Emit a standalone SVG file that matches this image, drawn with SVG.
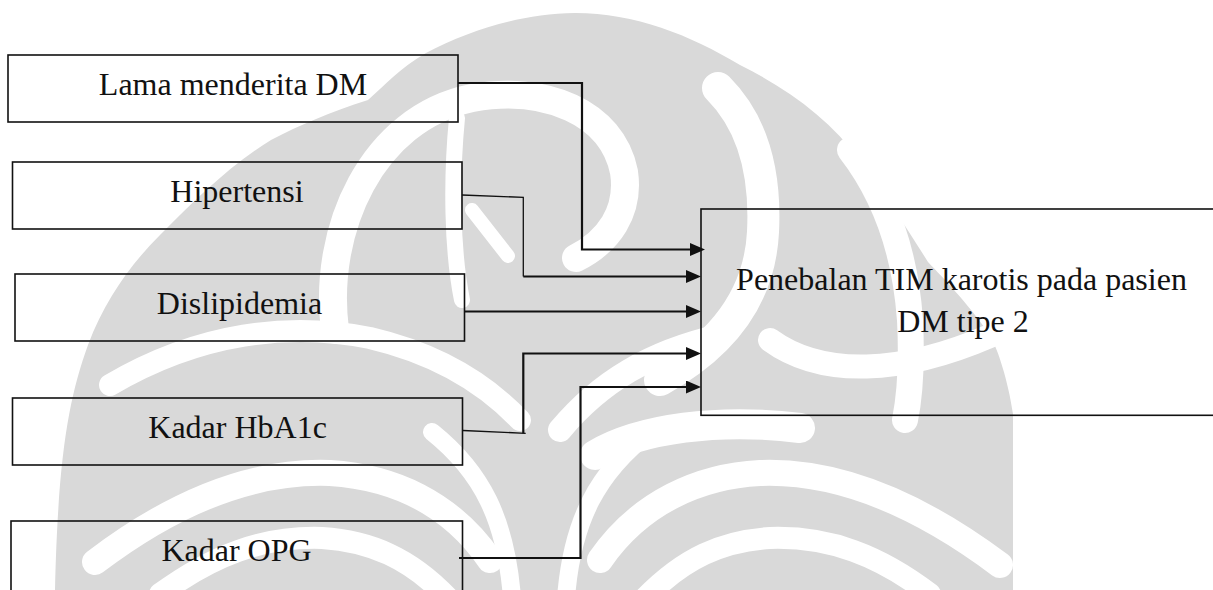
<svg xmlns="http://www.w3.org/2000/svg" width="1213" height="590" viewBox="0 0 1213 590">
<defs>
<style>
.wm{fill:#d9d9d9}
.wb{fill:none;stroke:#fff;stroke-linecap:round}
.box{fill:none;stroke:#111;stroke-width:1.6}
.lbl{font-family:"Liberation Serif","Times New Roman",serif;font-size:32px;fill:#111;text-anchor:middle}
.thick{fill:none;stroke:#111;stroke-width:2.2}
.thin{fill:none;stroke:#111;stroke-width:1.3}
</style>
<marker id="ah" markerUnits="userSpaceOnUse" markerWidth="16" markerHeight="14" refX="0" refY="6.5" orient="auto">
<path d="M0,0 L15,6.5 L0,13 Z" fill="#111"/>
</marker>
</defs>
<rect width="1213" height="590" fill="#fff"/>
<g id="watermark">
<path class="wm" d="M 575,13 C 520,14 470,30 426,53 C 400,68 385,85 368,100 C 330,112 300,125 271,140 C 230,165 195,200 160,235 C 130,265 105,300 88,345 C 68,400 58,460 55,590 L 1013,590 L 1013,414 C 1008,380 998,350 990,335 C 965,300 945,280 928,262 C 905,225 885,195 860,160 C 830,120 790,90 740,65 C 690,35 635,13 575,13 Z"/>
<path class="wb" stroke-width="28" d="M 335,330 C 322,230 372,118 472,98 C 545,85 612,112 624,172 C 630,212 608,242 576,258"/>
<path class="wb" stroke-width="16" d="M 457,118 C 451,180 452,250 462,300"/>
<path class="wb" stroke-width="14" d="M 472,210 L 508,256"/>
<path class="wb" stroke-width="32" d="M 718,88 C 752,122 766,172 763,232 C 760,292 728,342 660,380"/>
<path class="wb" stroke-width="26" d="M 850,150 C 885,195 905,250 910,320 C 912,360 910,395 905,420"/>
<path class="wb" stroke-width="24" d="M 770,340 C 822,378 902,374 990,336"/>
<path class="wb" stroke-width="24" d="M 560,430 C 600,382 650,352 720,336"/>
<path class="wb" stroke-width="30" d="M 595,455 C 640,428 720,418 800,428"/>
<path class="wb" stroke-width="26" d="M 600,560 C 640,502 700,476 760,473 C 840,470 920,505 1000,565"/>
<path class="wb" stroke-width="22" d="M 645,598 C 684,558 722,541 770,538 C 830,536 880,556 930,594"/>
<path class="wb" stroke-width="22" d="M 520,420 C 480,378 430,352 370,338 C 290,322 200,332 110,385"/>
<path class="wb" stroke-width="26" d="M 490,560 C 450,502 392,477 330,473 C 250,470 170,505 95,562"/>
<path class="wb" stroke-width="22" d="M 448,598 C 410,558 370,541 322,538 C 262,536 212,556 160,594"/>
<path class="wb" stroke-width="18" d="M 512,598 C 506,520 482,472 432,432"/>
<path class="wb" stroke-width="18" d="M 566,598 C 572,520 598,472 650,432"/>
</g>
<g id="connectors">
<path class="thick" d="M 458,83 H 582 V 249.5 H 690" marker-end="url(#ah)"/>
<path class="thin" d="M 462,195 L 523.3,197.3 V 276.5"/>
<path class="thick" d="M 523.3,276.5 H 686" marker-end="url(#ah)"/>
<path class="thick" d="M 464.5,311.5 H 686" marker-end="url(#ah)"/>
<path class="thin" d="M 463,430.5 L 525.7,433.3"/>
<path class="thick" d="M 523.3,433.3 V 353.5 H 686" marker-end="url(#ah)"/>
<path class="thick" d="M 459,558 H 580.5 V 387 H 686" marker-end="url(#ah)"/>
</g>
<g id="node-lama">
<rect class="box" x="8" y="55" width="450" height="67"/>
<text class="lbl" x="233" y="95">Lama menderita DM</text>
</g>
<g id="node-hipertensi">
<rect class="box" x="12.5" y="162" width="449.5" height="67"/>
<text class="lbl" x="237" y="202">Hipertensi</text>
</g>
<g id="node-dislipidemia">
<rect class="box" x="15" y="274" width="449.5" height="67"/>
<text class="lbl" x="239.5" y="313.5">Dislipidemia</text>
</g>
<g id="node-hba1c">
<rect class="box" x="12.5" y="398" width="450" height="67"/>
<text class="lbl" x="237.6" y="437.5">Kadar HbA1c</text>
</g>
<g id="node-opg">
<rect class="box" x="11" y="521" width="451.5" height="90"/>
<text class="lbl" x="236.5" y="561">Kadar OPG</text>
</g>
<g id="node-penebalan">
<rect class="box" x="701" y="209" width="530" height="206.3"/>
<text class="lbl" x="961.5" y="290">Penebalan TIM karotis pada pasien</text>
<text class="lbl" x="963" y="331.5">DM tipe 2</text>
</g>
</svg>
